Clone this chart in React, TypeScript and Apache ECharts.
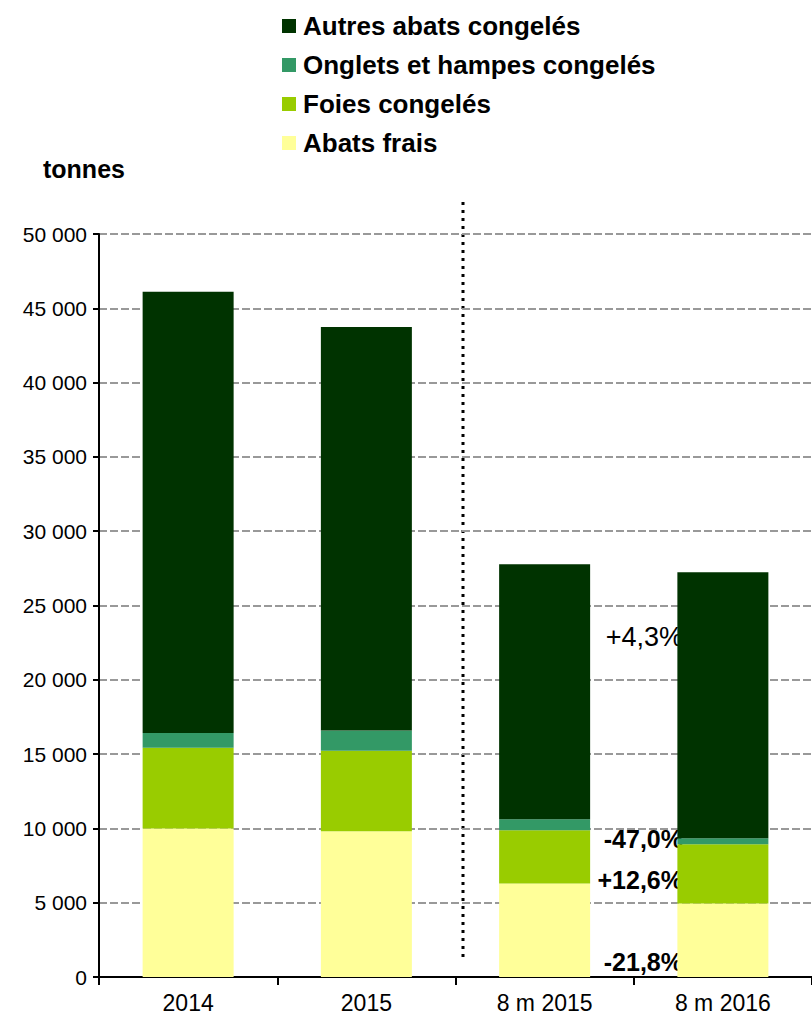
import React, { useEffect, useRef } from "react";
import * as echarts from "echarts";

const categories = ["2014", "2015", "8 m 2015", "8 m 2016"];
const abatsFrais = [10000, 9800, 6300, 4940];
const foiesCongeles = [5420, 5430, 3570, 3990];
const ongletsHampes = [1000, 1350, 740, 400];
const autresAbats = [29700, 27170, 17160, 17900];
const yTicks = { min: 0, max: 50000, interval: 5000 };
const variations = ["+4,3%", "-47,0%", "+12,6%", "-21,8%"];

const fmt = (v: number) =>
  v === 0 ? "0" : String(v).replace(/\B(?=(\d{3})+(?!\d))/g, " ");

export default function App() {
  const ref = useRef<HTMLDivElement>(null);
  useEffect(() => {
    document.body.style.margin = "0";
    const chart = echarts.init(ref.current!, null, { renderer: "svg" });
    const font = "Arial, 'Liberation Sans', sans-serif";
    const mk = (name: string, data: number[], color: string) => ({
      name,
      type: "bar",
      stack: "total",
      data,
      barWidth: 91,
      itemStyle: { color },
      emphasis: { disabled: true },
    });
    chart.setOption({
      animation: false,
      textStyle: { fontFamily: font },
      grid: { left: 99, right: -5, top: 234, bottom: 41 },
      legend: {
        orient: "vertical",
        left: 277,
        top: 8,
        icon: "rect",
        itemWidth: 14,
        itemHeight: 14,
        itemGap: 13,
        selectedMode: false,
        data: [
          "Autres abats congelés",
          "Onglets et hampes congelés",
          "Foies congelés",
          "Abats frais",
        ],
        textStyle: {
          fontFamily: font,
          fontSize: 26,
          fontWeight: "bold",
          color: "#000",
          lineHeight: 26,
          padding: [0, 0, 0, 2],
        },
      },
      xAxis: {
        type: "category",
        data: categories,
        axisLine: { lineStyle: { color: "#000", width: 2 } },
        axisTick: { show: true, length: 8, lineStyle: { color: "#000", width: 2 } },
        axisLabel: { color: "#000", fontSize: 23, margin: 14, fontFamily: font },
      },
      yAxis: {
        type: "value",
        min: yTicks.min,
        max: yTicks.max,
        interval: yTicks.interval,
        axisLine: { show: true, lineStyle: { color: "#000", width: 2 } },
        axisTick: { show: true, length: 6, lineStyle: { color: "#000", width: 2 } },
        axisLabel: {
          color: "#000",
          fontSize: 21,
          margin: 12,
          fontFamily: font,
          formatter: fmt,
        },
        splitLine: {
          show: true,
          lineStyle: { color: "#999999", width: 2, type: [8, 3] },
        },
      },
      series: [
        mk("Abats frais", abatsFrais, "#FFFF99"),
        mk("Foies congelés", foiesCongeles, "#99CC00"),
        mk("Onglets et hampes congelés", ongletsHampes, "#339966"),
        mk("Autres abats congelés", autresAbats, "#003300"),
      ],
      graphic: [
        {
          type: "text",
          left: 43,
          top: 156,
          style: {
            text: "tonnes",
            font: `bold 25px ${font}`,
            fill: "#000",
          },
        },
        {
          type: "line",
          shape: { x1: 463, y1: 202, x2: 463, y2: 957 },
          style: { stroke: "#000", lineWidth: 3, lineDash: [3, 5] },
        },
        {
          type: "text",
          x: 683,
          y: 637,
          style: {
            text: variations[0],
            font: `27px ${font}`,
            fill: "#000",
            textAlign: "right",
            textVerticalAlign: "middle",
          },
        },
        {
          type: "text",
          x: 683,
          y: 839,
          style: {
            text: variations[1],
            font: `bold 25px ${font}`,
            fill: "#000",
            textAlign: "right",
            textVerticalAlign: "middle",
          },
        },
        {
          type: "text",
          x: 683,
          y: 880,
          style: {
            text: variations[2],
            font: `bold 25px ${font}`,
            fill: "#000",
            textAlign: "right",
            textVerticalAlign: "middle",
          },
        },
        {
          type: "text",
          x: 683,
          y: 962,
          style: {
            text: variations[3],
            font: `bold 25px ${font}`,
            fill: "#000",
            textAlign: "right",
            textVerticalAlign: "middle",
          },
        },
      ],
    });
    return () => chart.dispose();
  }, []);
  return <div ref={ref} style={{ width: 812, height: 1018 }} />;
}
